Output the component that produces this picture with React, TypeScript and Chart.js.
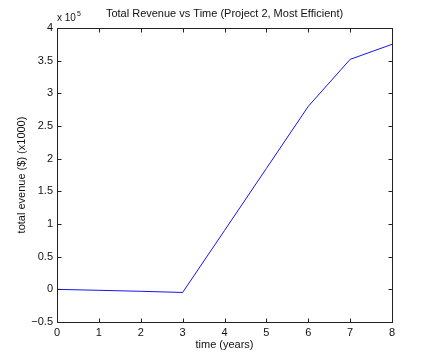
import React, { useEffect, useRef } from "react";
import { Chart, registerables } from "chart.js";

Chart.register(...registerables);

const years = [0, 1, 2, 3, 4, 5, 6, 7, 8];
const revenue = [0, -1500, -3000, -4800, 90000, 185000, 280000, 352000, 375000];
const xTicks = [0, 1, 2, 3, 4, 5, 6, 7, 8];
const yTicks = [-50000, 0, 50000, 100000, 150000, 200000, 250000, 300000, 350000, 400000];

const chartTitle = "Total Revenue vs Time (Project 2, Most Efficient)";
const xTitle = "time (years)";
const yTitle = "total evenue ($) (x1000)";

const FONT = "'Liberation Sans', Arial, sans-serif";

const boxPlugin = {
  id: "matlabBox",
  afterDraw(chart: any) {
    const { ctx, chartArea } = chart;
    const { left, right, top, bottom } = chartArea;
    const xs = chart.scales.x;
    const ys = chart.scales.y;
    ctx.save();
    ctx.strokeStyle = "#222";
    ctx.lineWidth = 1;
    ctx.beginPath();
    const L = Math.round(left) + 0.5, R = Math.round(right) + 0.5;
    const T = Math.round(top) + 0.5, B = Math.round(bottom) + 0.5;
    ctx.rect(L, T, R - L, B - T);
    const tl = 4;
    xTicks.forEach((v) => {
      const px = Math.round(xs.getPixelForValue(v)) + 0.5;
      ctx.moveTo(px, B); ctx.lineTo(px, B - tl);
      ctx.moveTo(px, T); ctx.lineTo(px, T + tl);
    });
    yTicks.forEach((v) => {
      const py = Math.round(ys.getPixelForValue(v)) + 0.5;
      ctx.moveTo(L, py); ctx.lineTo(L + tl, py);
      ctx.moveTo(R, py); ctx.lineTo(R - tl, py);
    });
    ctx.stroke();
    // title
    ctx.fillStyle = "#111";
    ctx.font = `11px ${FONT}`;
    ctx.textAlign = "center";
    ctx.textBaseline = "middle";
    ctx.fillText(chartTitle, (left + right) / 2, 14);
    // exponent label
    ctx.textAlign = "left";
    ctx.textBaseline = "alphabetic";
    ctx.font = `10px ${FONT}`;
    ctx.fillText("x 10", left, 21);
    const w = ctx.measureText("x 10").width;
    ctx.font = `7px ${FONT}`;
    ctx.fillText("5", left + w + 1, 16);
    ctx.restore();
  },
};

export default function App() {
  const ref = useRef<HTMLCanvasElement>(null);
  useEffect(() => {
    document.body.style.margin = "0";
    const chart = new Chart(ref.current!, {
      type: "line",
      data: {
        datasets: [
          {
            data: years.map((x, i) => ({ x, y: revenue[i] })),
            borderColor: "rgb(20,20,235)",
            borderWidth: 1,
            pointRadius: 0,
            fill: false,
            tension: 0,
          },
        ],
      },
      options: {
        animation: false,
        responsive: false,
        maintainAspectRatio: false,
        layout: { padding: { left: 0, right: 40, top: 28, bottom: 0 } },
        plugins: { legend: { display: false }, title: { display: false }, tooltip: { enabled: false } },
        scales: {
          x: {
            type: "linear",
            min: 0,
            max: 8,
            grid: { display: false, drawTicks: false },
            border: { display: false },
            afterFit: (s: any) => { s.height = 39; },
            afterBuildTicks: (s: any) => { s.ticks = xTicks.map((v) => ({ value: v })); },
            ticks: {
              padding: 4,
              color: "#111",
              font: { family: FONT, size: 11 },
              callback: (v: any) => String(v),
            },
            title: {
              display: true,
              text: xTitle,
              color: "#111",
              font: { family: FONT, size: 11 },
              padding: { top: 0, bottom: 9 },
            },
          },
          y: {
            type: "linear",
            min: -50000,
            max: 400000,
            grid: { display: false, drawTicks: false },
            border: { display: false },
            afterFit: (s: any) => { s.width = 57; },
            afterBuildTicks: (s: any) => { s.ticks = yTicks.map((v) => ({ value: v })); },
            ticks: {
              padding: 4,
              color: "#111",
              font: { family: FONT, size: 11 },
              callback: (v: any) => {
                const n = Number(v) / 100000;
                const s = String(Math.abs(n));
                return n < 0 ? "\u22120" + s.slice(1) : s;
              },
            },
            title: {
              display: true,
              text: yTitle,
              color: "#111",
              font: { family: FONT, size: 11 },
              padding: { top: 15, bottom: 0 },
            },
          },
        },
      },
      plugins: [boxPlugin],
    });
    return () => chart.destroy();
  }, []);
  return <canvas ref={ref} width={432} height={361} style={{ display: "block" }} />;
}
